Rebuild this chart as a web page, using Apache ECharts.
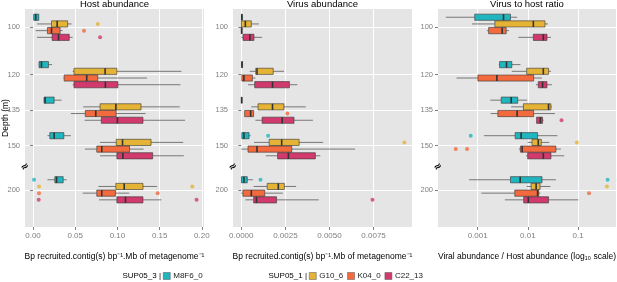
<!DOCTYPE html>
<html>
<head>
<meta charset="utf-8">
<script src="https://cdn.jsdelivr.net/npm/echarts@6/dist/echarts.min.js"></script>
<style>
  html, body { margin: 0; padding: 0; background: #fff; }
  #chart { width: 617px; height: 282px; }
</style>
</head>
<body>
<div id="chart"></div>
<script>
// depths on the y axis (200 sits after an axis break)
const depths = [100, 120, 135, 150, 200];
const groups = ['M8F6_0', 'G10_6', 'K04_0', 'C22_13'];
const groupColors = ['#1fb6c0', '#e5b436', '#f26a3d', '#d23a6d'];

// box rows per depth: [min, q1, median, q3, max]
const hostM8F6 = [[0.0005, 0.0008, 0.0032, 0.0068, 0.007], [0.007, 0.0071, 0.0100, 0.0183, 0.0226], [0.0125, 0.0131, 0.0143, 0.025, 0.0338], [0.0171, 0.0199, 0.025, 0.0365, 0.0449], [0.0171, 0.0258, 0.0279, 0.0357, 0.0398]];
const hostG10 = [[0.0048, 0.0219, 0.0286, 0.041, 0.0457], [0.0469, 0.0485, 0.0854, 0.0993, 0.1758], [0.0595, 0.0794, 0.0981, 0.1279, 0.1738], [0.0794, 0.0985, 0.106, 0.1398, 0.1779], [0.0774, 0.0981, 0.108, 0.1302, 0.1469]];
const hostK04 = [[0.0032, 0.0171, 0.0219, 0.0321, 0.035], [0.036, 0.0369, 0.0636, 0.0767, 0.135], [0.0449, 0.0619, 0.0743, 0.0985, 0.1333], [0.0615, 0.0755, 0.0814, 0.1143, 0.131], [0.0588, 0.0755, 0.0814, 0.0976, 0.1139]];
const hostC22 = [[0.0048, 0.0226, 0.0302, 0.0429, 0.0469], [0.047, 0.0485, 0.0857, 0.1005, 0.1746], [0.0611, 0.0809, 0.0999, 0.1302, 0.18], [0.0794, 0.0993, 0.1064, 0.1417, 0.1786], [0.0782, 0.0993, 0.1095, 0.1302, 0.152]];

const virusM8F6 = [[0, 0.00001, 0.00003, 0.00006, 0.0001], [0, 0.00002, 0.00004, 0.00007, 0.0001], [0, 0.00001, 0.00002, 0.00003, 0.00004], [0.00003, 0.00003, 0.00015, 0.00044, 0.00053], [0, 0.00001, 0.00015, 0.00034, 0.00066]];
const virusG10 = [[0, 0.00001, 0.00023, 0.00057, 0.001], [0.00048, 0.00082, 0.00089, 0.00181, 0.00242], [0.00057, 0.00095, 0.00177, 0.00242, 0.00366], [0.00072, 0.00158, 0.00229, 0.00328, 0.00464], [0.0007, 0.00147, 0.0021, 0.00244, 0.00311]];
const virusK04 = [[0, 0.00001, 0.00002, 0.00003, 0.00004], [0.00003, 0.00003, 0.00015, 0.00063, 0.0008], [0.00019, 0.00019, 0.00053, 0.0007, 0.0007], [0, 0.00038, 0.00089, 0.00286, 0.00645], [0, 0.00009, 0.00057, 0.00133, 0.00235]];
const virusC22 = [[0, 0.0001, 0.00049, 0.00072, 0.00118], [0.00038, 0.00076, 0.00177, 0.00273, 0.00318], [0.0008, 0.00118, 0.00232, 0.00299, 0.00406], [0.00139, 0.00206, 0.00267, 0.0042, 0.00448], [0.00023, 0.0007, 0.00086, 0.002, 0.00439]];

const ratioM8F6 = [[0.000232, 0.000873, 0.00327, 0.0045, 0.00611], [0.00264, 0.00273, 0.00375, 0.00479, 0.0071], [0.00178, 0.00294, 0.00465, 0.00628, 0.00964], [0.00133, 0.00558, 0.00733, 0.0156, 0.0389], [0.000673, 0.0045, 0.00702, 0.0191, 0.0361]];
const ratioG10 = [[0.00077, 0.0022, 0.01285, 0.0219, 0.0251], [0.00479, 0.00946, 0.0203, 0.0258, 0.0288], [0.00465, 0.00815, 0.0258, 0.0288, 0.0301], [0.0099, 0.0121, 0.0161, 0.0185, 0.0267], [0.00946, 0.0116, 0.0146, 0.0175, 0.0281]];
const ratioK04 = [[0.00153, 0.00165, 0.00308, 0.0037, 0.00417], [0.000379, 0.00101, 0.00241, 0.013, 0.0191], [0.00181, 0.00252, 0.00611, 0.013, 0.0346], [0.0066, 0.0071, 0.00768, 0.0361, 0.0454], [0.00118, 0.00548, 0.0156, 0.0164, 0.0177]];
const ratioC22 = [[0.00649, 0.01285, 0.0203, 0.024, 0.0288], [0.0145, 0.0161, 0.0196, 0.024, 0.0301], [0.0149, 0.0149, 0.0177, 0.0196, 0.0205], [0.0092, 0.0099, 0.0203, 0.0288, 0.0528], [0.00348, 0.00826, 0.0102, 0.0258, 0.101]];

// outliers: [depth, value]
const hostOut = [[[200, 0.0012]], [[100, 0.0767], [200, 0.0071], [200, 0.1886]], [[100, 0.0604], [200, 0.0071], [200, 0.1476]], [[100, 0.0794], [200, 0.0067], [200, 0.1937]]];
const virusOut = [[[150, 0.00152], [200, 0.00109]], [[150, 0.00925]], [[135, 0.00261]], [[200, 0.00744]]];
const ratioOut = [[[150, 0.000726], [200, 0.387]], [[150, 0.0942], [200, 0.375]], [[120, 0.00789], [150, 0.000366], [150, 0.000614], [200, 0.165]], [[135, 0.0468]]];

const hostTicks = [0, 0.05, 0.1, 0.15, 0.2];
const virusTicks = [0, 0.0025, 0.005, 0.0075];
const ratioTicks = [0.001, 0.01, 0.1];

const BREAK_SHIFT = 31.4;   // depth 200 drawn just after 150
const SLOT = 6.7;           // px between dodged boxes
const BOX_H = 6.2;
function depthPos(d) { return d > 150 ? d - BREAK_SHIFT : d; }
function posDepth(p) { return p > 150 ? Math.round(p + BREAK_SHIFT) : p; }

const FONT = 'Liberation Sans';
const AXIS_GREY = '#7f7f7f';
const TOP = 9, HEIGHT = 218;

const panels = [
  { title: 'Host abundance', left: 25, width: 179, type: 'value', min: -0.0095, max: 0.2025, ticks: hostTicks,
    fmt: v => v.toFixed(2), boxes: [hostM8F6, hostG10, hostK04, hostC22], outliers: hostOut,
    name: 'Bp recruited.contig(s) bp\u207B\u00B9.Mb of metagenome\u207B\u00B9' },
  { title: 'Virus abundance', left: 233, width: 179, type: 'value', min: -0.00047, max: 0.00968, ticks: virusTicks,
    fmt: v => v.toFixed(4), boxes: [virusM8F6, virusG10, virusK04, virusC22], outliers: virusOut,
    name: 'Bp recruited.contig(s) bp\u207B\u00B9.Mb of metagenome\u207B\u00B9' },
  { title: 'Virus to host ratio', left: 438, width: 178, type: 'log', min: 0.000162, max: 0.569, ticks: ratioTicks,
    fmt: v => String(v), boxes: [ratioM8F6, ratioG10, ratioK04, ratioC22], outliers: ratioOut,
    name: 'Viral abundance / Host abundance (log\u2081\u2080 scale)' }
];

function boxItem(gi) {
  return function (params, api) {
    const pos = api.value(0);
    const x = [1, 2, 3, 4, 5].map(k => api.coord([api.value(k), pos])[0]);
    const y = api.coord([api.value(3), pos])[1] + (gi - 1.5) * SLOT;
    const h = BOX_H;
    const whisker = (x1, x2) => ({
      type: 'line', shape: { x1: x1, y1: y, x2: x2, y2: y },
      style: { stroke: '#5a5a5a', lineWidth: 0.8 }
    });
    return {
      type: 'group',
      children: [
        whisker(x[0], x[1]),
        whisker(x[3], x[4]),
        { type: 'rect', shape: { x: x[1], y: y - h / 2, width: Math.max(x[3] - x[1], 0.6), height: h },
          style: { fill: groupColors[gi], stroke: '#333', lineWidth: 0.6 } },
        { type: 'line', shape: { x1: x[2], y1: y - h / 2, x2: x[2], y2: y + h / 2 },
          style: { stroke: '#333', lineWidth: 1.6 } }
      ]
    };
  };
}

const grids = [], xAxes = [], yAxes = [], series = [], graphics = [];
const depthTicks = depths.map(depthPos);

panels.forEach((p, pi) => {
  grids.push({ left: p.left, top: TOP, width: p.width, height: HEIGHT, show: true,
    backgroundColor: '#e5e5e5', borderWidth: 0 });
  xAxes.push({
    gridIndex: pi, type: p.type, min: p.min, max: p.max,
    axisLine: { show: false },
    axisTick: { show: true, customValues: p.ticks, length: 3, lineStyle: { color: AXIS_GREY } },
    axisLabel: { customValues: p.ticks, formatter: p.fmt, color: AXIS_GREY, fontSize: 8, margin: 5, fontFamily: FONT },
    splitLine: { show: true, lineStyle: { color: '#fff', width: 1 } }
  });
  yAxes.push({
    gridIndex: pi, type: 'value', inverse: true, min: 92.28, max: 184.3,
    axisLine: { show: false },
    axisTick: { show: true, customValues: depthTicks, length: 3, lineStyle: { color: AXIS_GREY } },
    axisLabel: { customValues: depthTicks, formatter: v => String(posDepth(v)), color: AXIS_GREY, fontSize: 7.5, margin: 5, fontFamily: FONT },
    splitLine: { show: true, lineStyle: { color: '#fff', width: 1 } }
  });
  groups.forEach((g, gi) => {
    series.push({
      type: 'custom', name: g, xAxisIndex: pi, yAxisIndex: pi,
      itemStyle: { color: groupColors[gi] },
      renderItem: boxItem(gi),
      encode: { x: [1, 2, 3, 4, 5], y: 0 },
      data: p.boxes[gi].map((r, i) => [depthPos(depths[i])].concat(r)),
      silent: true
    });
    series.push({
      type: 'scatter', name: g, xAxisIndex: pi, yAxisIndex: pi,
      symbolSize: 4, symbolOffset: [0, (gi - 1.5) * SLOT],
      itemStyle: { color: groupColors[gi], opacity: 0.8 },
      data: p.outliers[gi].map(o => [o[1], depthPos(o[0])]),
      silent: true
    });
  });
  graphics.push({ type: 'text', x: p.left + p.width / 2, y: 4,
    style: { text: p.title, fill: '#000', fontSize: 9.5, fontFamily: FONT, align: 'center', verticalAlign: 'middle' } });
  graphics.push({ type: 'text', x: p.left + p.width / 2, y: 257,
    style: { text: p.name, fill: '#000', fontSize: 8.5, fontFamily: FONT, align: 'center', verticalAlign: 'middle' } });
  graphics.push({ type: 'text', x: p.left, y: 167, rotation: 0.6,
    style: { text: '\u2248', fill: '#000', fontSize: 10, fontWeight: 'bold', fontFamily: 'DejaVu Sans', align: 'center', verticalAlign: 'middle' } });
});

graphics.push({ type: 'text', x: 6, y: 118, rotation: Math.PI / 2,
  style: { text: 'Depth (m)', fill: '#000', fontSize: 8.5, fontFamily: FONT, align: 'center', verticalAlign: 'middle' } });
graphics.push({ type: 'text', x: 161, y: 276,
  style: { text: 'SUP05_3 |', fill: '#000', fontSize: 8, fontFamily: FONT, align: 'right', verticalAlign: 'middle' } });
graphics.push({ type: 'text', x: 307, y: 276,
  style: { text: 'SUP05_1 |', fill: '#000', fontSize: 8, fontFamily: FONT, align: 'right', verticalAlign: 'middle' } });

const legendBase = {
  orient: 'horizontal', icon: 'rect', itemWidth: 7, itemHeight: 7, itemGap: 4, padding: 0,
  top: 272, selectedMode: false,
  itemStyle: { borderColor: '#555', borderWidth: 0.5 },
  textStyle: { fontSize: 8, color: '#222', fontFamily: FONT, padding: [0, 0, 0, -2] }
};

const chart = echarts.init(document.getElementById('chart'), null, { renderer: 'canvas' });
chart.setOption({
  animation: false,
  textStyle: { fontFamily: FONT },
  grid: grids,
  xAxis: xAxes,
  yAxis: yAxes,
  legend: [
    Object.assign({}, legendBase, { left: 163, data: ['M8F6_0'] }),
    Object.assign({}, legendBase, { left: 309, data: ['G10_6', 'K04_0', 'C22_13'] })
  ],
  graphic: graphics,
  series: series
});
</script>
</body>
</html>
